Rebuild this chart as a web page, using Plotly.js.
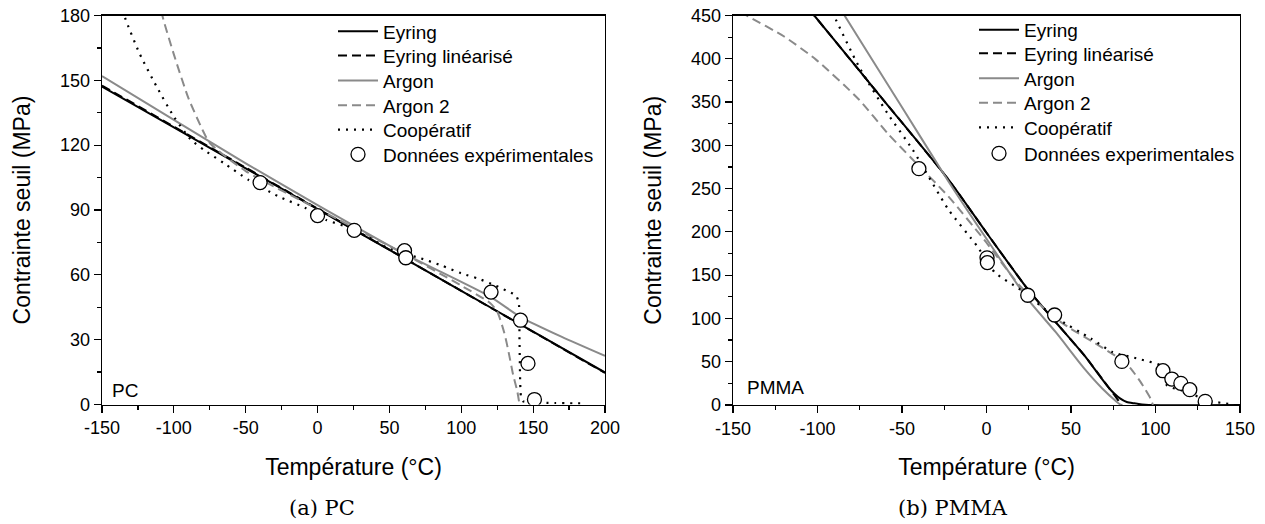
<!DOCTYPE html>
<html>
<head>
<meta charset="utf-8">
<script src="https://cdn.plot.ly/plotly-3.0.1.min.js"></script>
<style>
html,body{margin:0;padding:0;background:#fff;}
#chart{width:1265px;height:524px;}
</style>
</head>
<body>
<div id="chart"></div>
<script>
// ---------- PC (left) ----------
const pcExpT = [-40, 0, 25.5, 60.5, 61.4, 120.7, 141.2, 146.4, 150.9];
const pcExpS = [102.7, 87.4, 80.6, 71.2, 67.9, 52, 39, 19, 2.3];

const pcEyringT = [-150, -100, -50, 0, 50, 100, 150, 200];
const pcEyringS = [147.1, 128.2, 109.3, 90.4, 71.5, 52.6, 33.7, 14.8];

const pcEyLinT = [-150, -100, -50, 0, 50, 100, 150, 200];
const pcEyLinS = [147.6, 128.6, 109.6, 90.6, 71.6, 52.6, 33.6, 14.6];

const pcArgonT = [-150, -100, -50, 0, 60, 120, 141, 170, 200];
const pcArgonS = [152, 131.7, 111.6, 92.3, 69.9, 49.9, 40.6, 31.3, 22.5];

const pcArgon2T = [-112, -108, -100, -90, -80, -75, -50, 0, 60, 100, 120, 125, 130, 133, 136, 139, 140.5];
const pcArgon2S = [195, 180, 162, 142, 127, 121, 108, 90.5, 69.8, 55, 47, 43, 33, 24, 14, 6, 0];

const pcCoopT = [-137, -134, -124, -112, -100, -88, -79, -65, -48, -27, -8, 6, 20, 35, 50, 61, 70, 86, 100, 112, 124, 131, 138, 140, 140.5, 141, 141.5, 143, 150, 165, 185];
const pcCoopS = [186, 179, 162.6, 147.1, 133.2, 122.4, 117.8, 111.6, 103.9, 96.2, 90.8, 85.4, 82.3, 77.5, 72, 69.5, 68, 64.4, 60.7, 58.2, 55, 52.8, 50.5, 47, 30, 10, 4, 1.5, 1, 0.7, 0.5];

const pcXTicks = [-150, -100, -50, 0, 50, 100, 150, 200];
const pcXLabels = ['-150', '-100', '-50', '0', '50', '100', '150', '200'];
const pcYTicks = [0, 30, 60, 90, 120, 150, 180];

// ---------- PMMA (right) ----------
const pmExpT = [-40, 0.3, 0.5, 24.4, 40.3, 80.1, 104.4, 109.7, 115, 120.3, 129.4];
const pmExpS = [273, 170, 164.5, 126.8, 104, 50.3, 39.6, 30, 25, 17.7, 4.2];

const pmEyringT = [-110, -101.9, -60, -22.6, 0, 24.4, 41, 57.9, 72.7, 79, 83, 87.5, 92, 96, 150];
const pmEyringS = [470, 450, 350, 260.6, 199, 133.8, 95.6, 57.3, 19.1, 7.6, 3.5, 1.9, 0.6, 0, 0];

const pmEyLinT = [-110, -101.9, -60, -22.6, 0, 24.4, 41, 57.9, 72.7, 78.5, 80];
const pmEyLinS = [470, 450, 350, 260.6, 199, 133.8, 95.6, 57.3, 19.1, 4, 0];

const pmArgonT = [-90, -84, -50, -22.6, 0, 24.4, 41, 57.9, 68.5, 77, 79, 80];
const pmArgonS = [470, 450, 344, 258.6, 192, 122.3, 84.1, 42, 19.1, 3.8, 0.8, 0];

const pmArgon2T = [-160, -141, -120, -100.9, -75.5, -58.6, -43.7, -22.6, -1.4, 19.8, 41, 50, 62, 80, 85.4, 91.7, 97, 98.5];
const pmArgon2S = [470, 449, 426, 399, 353, 314, 283.6, 241, 191, 137.6, 100, 88, 74, 52, 42, 25, 7.6, 0];

const pmCoopT = [-93, -90.3, -75.5, -58.6, -43.7, -22.6, -5.6, 5, 19.8, 41, 62, 74.8, 89.6, 104.4, 106.6, 119, 130, 144.7];
const pmCoopS = [462, 450, 391, 337, 295, 226, 183.7, 153, 133.7, 101, 76.5, 61, 53.5, 44, 23, 15, 5.7, 0.8];

const pmXTicks = [-150, -100, -50, 0, 50, 100, 150];
const pmXLabels = ['-150', '-100', '-50', '0', '50', '100', '150'];
const pmYTicks = [0, 50, 100, 150, 200, 250, 300, 350, 400, 450];

const seriesNames = ['Eyring', 'Eyring linéarisé', 'Argon', 'Argon 2', 'Coopératif'];
const pcDataName = 'Données expérimentales';
const pmDataName = 'Données experimentales';

// ---------- styles ----------
const GRAY = '#8a8a8a';
const styles = [
  {color: '#000', width: 2, dash: 'solid'},
  {color: '#000', width: 2, dash: '9px,5px'},
  {color: GRAY, width: 2, dash: 'solid'},
  {color: GRAY, width: 2, dash: '9px,5px'},
  {color: '#000', width: 2.2, dash: '2px,6px'}
];

function legId(k) { return k === 1 ? 'legend' : 'legend' + k; }

function lineTrace(x, y, i, xa, ya, lg) {
  return {x: x, y: y, type: 'scatter', mode: 'lines', name: seriesNames[i],
    line: Object.assign({shape: 'spline', smoothing: 0.6}, styles[i]),
    xaxis: xa, yaxis: ya, legend: legId(lg), hoverinfo: 'skip'};
}
function dataTrace(x, y, name, xa, ya, lg) {
  return {x: x, y: y, type: 'scatter', mode: 'markers', name: name,
    marker: {symbol: 'circle', size: 14, color: '#fff', line: {color: '#000', width: 1.3}},
    xaxis: xa, yaxis: ya, legend: legId(lg)};
}

const traces = [
  lineTrace(pcEyringT, pcEyringS, 0, 'x', 'y', 1),
  lineTrace(pcEyLinT, pcEyLinS, 1, 'x', 'y', 2),
  lineTrace(pcArgonT, pcArgonS, 2, 'x', 'y', 3),
  lineTrace(pcArgon2T, pcArgon2S, 3, 'x', 'y', 4),
  lineTrace(pcCoopT, pcCoopS, 4, 'x', 'y', 5),
  dataTrace(pcExpT, pcExpS, pcDataName, 'x', 'y', 6),
  lineTrace(pmEyringT, pmEyringS, 0, 'x2', 'y2', 7),
  lineTrace(pmEyLinT, pmEyLinS, 1, 'x2', 'y2', 8),
  lineTrace(pmArgonT, pmArgonS, 2, 'x2', 'y2', 9),
  lineTrace(pmArgon2T, pmArgon2S, 3, 'x2', 'y2', 10),
  lineTrace(pmCoopT, pmCoopS, 4, 'x2', 'y2', 11),
  dataTrace(pmExpT, pmExpS, pmDataName, 'x2', 'y2', 12)
];

const W = 1265, H = 524;
const FONT = "'Liberation Sans', Arial, sans-serif";
function axisBase() {
  return {
    showline: true, linecolor: '#000', linewidth: 1.3, mirror: true,
    ticks: 'outside', ticklen: 7, tickwidth: 1.2, tickcolor: '#000',
    showgrid: false, zeroline: false, tickmode: 'array',
    tickfont: {family: FONT, size: 18, color: '#000'},
    title: {font: {family: FONT, size: 23, color: '#000'}}
  };
}
const xa = Object.assign(axisBase(), {
  domain: [102 / W, 605 / W], range: [-150, 200], anchor: 'y',
  tickvals: pcXTicks, ticktext: pcXLabels,
  minor: {ticks: 'outside', ticklen: 4, dtick: 25, tick0: 0, tickcolor: '#000', showgrid: false}
});
xa.title.text = 'Température (°C)'; xa.title.standoff = 21;
const ya = Object.assign(axisBase(), {
  domain: [1 - 404.5 / H, 1 - 15.5 / H], range: [0, 180], anchor: 'x',
  tickvals: pcYTicks,
  minor: {ticks: 'outside', ticklen: 4, dtick: 15, tick0: 0, tickcolor: '#000', showgrid: false}
});
ya.title.text = 'Contrainte seuil (MPa)'; ya.title.standoff = 23;
const xa2 = Object.assign(axisBase(), {
  domain: [733 / W, 1240 / W], range: [-150, 150], anchor: 'y2',
  tickvals: pmXTicks, ticktext: pmXLabels,
  minor: {ticks: 'outside', ticklen: 4, dtick: 25, tick0: 0, tickcolor: '#000', showgrid: false}
});
xa2.title.text = 'Température (°C)'; xa2.title.standoff = 21;
const ya2 = Object.assign(axisBase(), {
  domain: [1 - 405 / H, 1 - 15.5 / H], range: [0, 450], anchor: 'x2',
  tickvals: pmYTicks,
  minor: {ticks: 'outside', ticklen: 4, dtick: 25, tick0: 0, tickcolor: '#000', showgrid: false}
});
ya2.title.text = 'Contrainte seuil (MPa)'; ya2.title.standoff = 23;

// legend row positions (px): one small legend per entry
const leftRowsY = [32.3, 56.7, 81.7, 106.5, 130.7, 155.5];
const rightRowsY = [31, 54.5, 79.5, 104, 128.5, 154.5];
const leftTextX = 383, rightTextX = 1024;

const layout = {
  width: W, height: H,
  margin: {l: 0, r: 0, t: 0, b: 0},
  paper_bgcolor: '#fff', plot_bgcolor: '#fff',
  showlegend: true,
  xaxis: xa, yaxis: ya, xaxis2: xa2, yaxis2: ya2,
  annotations: [
    {text: 'PC', xref: 'paper', yref: 'paper', x: 110 / W, y: 1 - 390 / H, xanchor: 'left', yanchor: 'middle', showarrow: false, font: {family: FONT, size: 19, color: '#000'}},
    {text: 'PMMA', xref: 'paper', yref: 'paper', x: 745 / W, y: 1 - 387 / H, xanchor: 'left', yanchor: 'middle', showarrow: false, font: {family: FONT, size: 19, color: '#000'}},
    {text: '(a) PC', xref: 'paper', yref: 'paper', x: 322 / W, y: 1 - 508 / H, xanchor: 'center', yanchor: 'middle', showarrow: false, font: {family: 'DejaVu Serif, Liberation Serif, serif', size: 21, color: '#000'}},
    {text: '(b) PMMA', xref: 'paper', yref: 'paper', x: 953 / W, y: 1 - 508 / H, xanchor: 'center', yanchor: 'middle', showarrow: false, font: {family: 'DejaVu Serif, Liberation Serif, serif', size: 21, color: '#000'}}
  ]
};

function addLegend(k, textX, rowY) {
  layout[legId(k)] = {
    bgcolor: 'rgba(0,0,0,0)', borderwidth: 0, xanchor: 'left', yanchor: 'top',
    font: {family: FONT, size: 19, color: '#000'}, itemwidth: 40,
    x: (textX - 50) / W, y: 1 - (rowY - 20) / H
  };
}
for (let i = 0; i < 6; i++) {
  addLegend(i + 1, leftTextX, leftRowsY[i]);
  addLegend(i + 7, rightTextX, rightRowsY[i]);
}

Plotly.newPlot('chart', traces, layout, {displayModeBar: false, staticPlot: true});
</script>
</body>
</html>
